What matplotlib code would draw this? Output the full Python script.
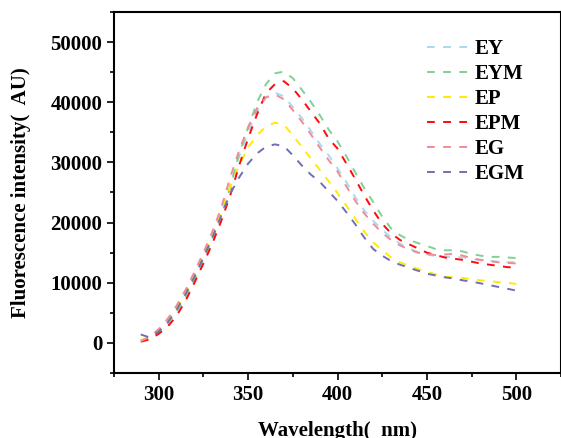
import matplotlib
matplotlib.use("Agg")
import matplotlib.pyplot as plt
from matplotlib.ticker import MultipleLocator

plt.rcParams['font.family'] = ['Liberation Serif', 'DejaVu Serif']
plt.rcParams['font.weight'] = 'bold'

wavelength = list(range(290, 505, 5))

EY = [400, 900, 2000, 3500, 5600, 8200, 11200, 14500, 17800, 21800, 26300,
      31000, 35000, 38500, 40800, 41600, 41000, 39200, 37400, 35300, 33100,
      31200, 29000, 26700, 24200, 22000, 20300, 18800, 17500, 16500, 15700,
      15100, 14700, 14400, 14300, 14300, 14200, 14000, 13700, 13600, 13500,
      13400, 13400]
EYM = [300, 700, 1800, 3200, 5200, 7600, 10500, 13800, 17200, 21200, 25800,
       31500, 35800, 40000, 43000, 44800, 45100, 44000, 42100, 40100, 37900,
       35500, 33500, 31000, 28300, 25700, 23400, 21000, 19000, 17900, 17100,
       16600, 16100, 15600, 15400, 15400, 15200, 14800, 14500, 14300, 14300,
       14200, 14100]
EP = [500, 1000, 2100, 3700, 5800, 8400, 11400, 14700, 18000, 22000, 26000,
      29500, 32500, 34500, 36000, 36600, 36300, 34500, 32600, 30700, 28800,
      26900, 24900, 22800, 20600, 18500, 16700, 15400, 14200, 13400, 12800,
      12300, 11800, 11400, 11000, 10900, 10800, 10600, 10400, 10300, 10100,
      10000, 9800]
EPM = [200, 600, 1500, 2700, 4500, 7000, 10000, 13200, 16500, 20300, 24500,
       29500, 34000, 38000, 41500, 43000, 43500, 42300, 40500, 38500, 36500,
       34000, 32300, 29800, 27200, 24500, 22000, 19800, 18200, 17100, 16400,
       15700, 15000, 14600, 14200, 14000, 13800, 13500, 13200, 13000, 12800,
       12600, 12500]
EG = [300, 1000, 2300, 4000, 6200, 8800, 11800, 15000, 18500, 22500, 27500,
      32000, 35800, 39000, 40800, 41300, 40500, 38700, 36800, 34700, 32500,
      30400, 28500, 26000, 23600, 21500, 19800, 18300, 17100, 16200, 15500,
      15000, 14800, 14600, 14700, 14800, 14500, 14100, 13800, 13600, 13400,
      13300, 13200]
EGM = [1400, 900, 1900, 3400, 5500, 8100, 11000, 14200, 17500, 21200, 24800,
       27500, 29800, 31500, 32600, 33000, 32700, 31200, 29500, 28000, 26800,
       25200, 23600, 21700, 19700, 17500, 15600, 14500, 13600, 13000, 12500,
       12000, 11500, 11200, 10900, 10700, 10400, 10200, 9900, 9600, 9300,
       9000, 8700]

series = [("EY", EY, "#a9d9f0"),
          ("EYM", EYM, "#7fd196"),
          ("EP", EP, "#ffea00"),
          ("EPM", EPM, "#ff0a0a"),
          ("EG", EG, "#f08c96"),
          ("EGM", EGM, "#6e6fb6")]

fig = plt.figure(figsize=(5.61, 4.38), dpi=100)
ax = fig.add_axes([114 / 561, 65 / 438, 447 / 561, 361 / 438])

for name, vals, col in series:
    ax.plot(wavelength, vals, color=col, lw=1.4, dashes=(4, 4.3), label=name)

ax.set_xlim(275, 525)
ax.set_ylim(-5000, 55000)
ax.xaxis.set_major_locator(MultipleLocator(50))
ax.xaxis.set_minor_locator(MultipleLocator(25))
ax.yaxis.set_major_locator(MultipleLocator(10000))
ax.yaxis.set_minor_locator(MultipleLocator(5000))
ax.tick_params(which='both', direction='out', width=1.2, labelsize=15,
               top=False, right=False)
ax.tick_params(which='major', length=5)
ax.tick_params(which='minor', length=3)
for s in ax.spines.values():
    s.set_linewidth(1.5)

ax.set_xlabel("Wavelength(  nm)", fontsize=15, fontweight='bold', labelpad=12)
ax.set_ylabel("Fluorescence intensity(  AU)", fontsize=15, fontweight='bold',
              labelpad=14)

ax.legend(loc='upper left', bbox_to_anchor=(0.70, 0.924), frameon=False,
          fontsize=15, handlelength=2.0, handletextpad=0.3, labelspacing=0.235,
          borderaxespad=0, borderpad=0)

fig.savefig("out.png", dpi=100)
